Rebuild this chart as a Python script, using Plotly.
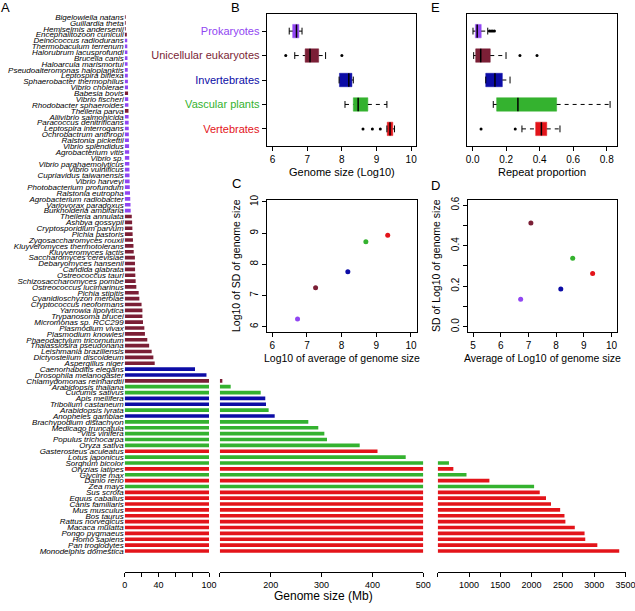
import plotly.graph_objects as go

W, H = 635, 611

# ---------------- DATA ----------------
species = [
    "Bigelowiella natans", "Guillardia theta", "Hemiselmis andersenii", "Encephalitozoon cuniculi",
    "Deinococcus radiodurans", "Thermobaculum terrenum", "Halorubrum lacusprofundi", "Brucella canis",
    "Haloarcula marismortui", "Pseudoalteromonas haloplanktis", "Leptospira biflexa",
    "Sphaerobacter thermophilus", "Vibrio cholerae", "Babesia bovis", "Vibrio fischeri",
    "Rhodobacter sphaeroides", "Theileria parva", "Aliivibrio salmonicida", "Paracoccus denitrificans",
    "Leptospira interrogans", "Ochrobactrum anthropi", "Ralstonia pickettii", "Vibrio splendidus",
    "Agrobacterium vitis", "Vibrio sp.", "Vibrio parahaemolyticus", "Vibrio vulnificus",
    "Cupriavidus taiwanensis", "Vibrio harveyi", "Photobacterium profundum", "Ralstonia eutropha",
    "Agrobacterium radiobacter", "Variovorax paradoxus", "Burkholderia ambifaria", "Theileria annulata",
    "Ashbya gossypii", "Cryptosporidium parvum", "Pichia pastoris", "Zygosaccharomyces rouxii",
    "Kluyveromyces thermotolerans", "Kluyveromyces lactis", "Saccharomyces cerevisiae",
    "Debaryomyces hansenii", "Candida glabrata", "Ostreococcus tauri", "Schizosaccharomyces pombe",
    "Ostreococcus lucimarinus", "Pichia stipitis", "Cyanidioschyzon merolae", "Cryptococcus neoformans",
    "Yarrowia lipolytica", "Trypanosoma brucei", "Micromonas sp. RCC299", "Plasmodium vivax",
    "Plasmodium knowlesi", "Phaeodactylum tricornutum", "Thalassiosira pseudonana",
    "Leishmania braziliensis", "Dictyostelium discoideum", "Aspergillus niger", "Caenorhabditis elegans",
    "Drosophila melanogaster", "Chlamydomonas reinhardtii", "Arabidopsis thaliana", "Cucumis sativus",
    "Apis mellifera", "Tribolium castaneum", "Arabidopsis lyrata", "Anopheles gambiae",
    "Brachypodium distachyon", "Medicago truncatula", "Vitis vinifera", "Populus trichocarpa",
    "Oryza sativa", "Gasterosteus aculeatus", "Lotus japonicus", "Sorghum bicolor", "Oryzias latipes",
    "Glycine max", "Danio rerio", "Zea mays", "Sus scrofa", "Equus caballus", "Canis familiaris",
    "Mus musculus", "Bos taurus", "Rattus norvegicus", "Macaca mulatta", "Pongo pygmaeus",
    "Homo sapiens", "Pan troglodytes", "Monodelphis domestica",
]

genome_mb = [
    0.37, 0.55, 0.57, 2.5,
    3.0, 3.1, 3.2, 3.3, 3.4, 3.6, 3.7, 3.8, 3.9, 4.0, 4.2, 4.4, 4.5, 4.6, 4.7, 4.8,
    4.9, 5.0, 5.2, 5.3, 5.4, 5.5, 5.6, 5.7, 5.8, 6.0, 6.3, 6.6, 6.9, 7.1,
    8.4, 8.8, 9.1, 9.4, 9.8, 10.4, 10.7, 12.1, 12.2, 12.3, 12.6, 13.0, 13.8, 16.6, 17.4,
    20.0, 21.0, 21.0, 21.7, 23.3, 24.0, 26.8, 29.0, 32.0, 34.0, 35.6,
    83.4, 97.0, 105.0, 121.4, 180.4, 189.4, 190.8, 196.0, 207.9, 274.0, 293.6, 305.5,
    310.7, 375.0, 410.0, 465.4, 680.0, 750.0, 960.0, 1326.0, 2040.0, 2130.0, 2230.0,
    2310.0, 2456.0, 2525.0, 2540.0, 2690.0, 2846.0, 2857.0, 3050.0, 3400.0,
]

# group index: 0 Prokaryotes, 1 Unicellular eukaryotes, 2 Invertebrates, 3 Vascular plants, 4 Vertebrates
species_group = (
    [1, 1, 1, 1] + [0] * 9 + [1] + [0, 0] + [1] + [0] * 17 + [1] * 26
    + [2, 2, 1, 3, 3, 2, 2, 3, 2, 3, 3, 3, 3, 3, 4, 3, 3, 4, 3, 4, 3] + [4] * 11
)

group_names = ["Prokaryotes", "Unicellular eukaryotes", "Invertebrates", "Vascular plants", "Vertebrates"]
group_colors = ["#9146F2", "#7B1F36", "#0C0CA6", "#34B22F", "#E3141A"]

# Panel B: genome size (log10) box statistics
b_low = [6.48, 6.64, 7.92, 8.09, 9.30]
b_q1 = [6.58, 6.94, 7.93, 8.33, 9.31]
b_med = [6.69, 7.08, 8.20, 8.47, 9.39]
b_q3 = [6.76, 7.33, 8.29, 8.75, 9.47]
b_high = [6.85, 7.53, 8.33, 9.30, 9.52]
b_out_group = [1, 1, 4, 4, 4]
b_out_value = [6.38, 8.00, 8.61, 8.88, 9.11]

# Panel E: repeat proportion box statistics
e_low = [0.002, 0.006, 0.078, 0.123, 0.294]
e_q1 = [0.016, 0.018, 0.078, 0.143, 0.376]
e_med = [0.027, 0.048, 0.133, 0.270, 0.410]
e_q3 = [0.051, 0.105, 0.177, 0.501, 0.442]
e_high = [0.090, 0.199, 0.223, 0.820, 0.521]
e_out_group = [0, 0, 0, 0, 1, 1, 4, 4]
e_out_value = [0.100, 0.110, 0.120, 0.130, 0.282, 0.384, 0.050, 0.254]

# Panel C
c_x = [6.73, 7.25, 8.18, 8.70, 9.33]
c_y = [6.25, 7.25, 7.76, 8.72, 8.93]
# Panel D
d_x = [6.72, 7.09, 8.17, 8.60, 9.32]
d_y = [0.136, 0.512, 0.186, 0.338, 0.263]

seg1_ticks = [0, 20, 40, 60, 80, 100]
seg1_text = ["0", "", "40", "", "", "100"]
seg2_ticks = [100, 200, 300, 400, 500]
seg2_text = ["", "200", "300", "400", "500"]
seg3_ticks = [500, 1000, 1500, 2000, 2500, 3000, 3500]
seg3_text = ["", "1000", "1500", "2000", "2500", "3000", "3500"]

# ---------------- HELPERS ----------------
def px(x):
    return x / W


def py(y):
    return 1 - y / H


FONT = "Liberation Sans, Arial, sans-serif"
fig = go.Figure()

n = len(species)
idx = list(range(n))
bar_colors = [group_colors[g] for g in species_group]

# Segment 1: 0-100
fig.add_trace(go.Bar(
    y=idx, x=[min(v, 100) for v in genome_mb], orientation="h",
    marker=dict(color=bar_colors, line=dict(width=0)), width=0.62,
    xaxis="x", yaxis="y", showlegend=False, hoverinfo="skip"))
# Segment 2: 100-500
s2 = [i for i in idx if genome_mb[i] > 100]
fig.add_trace(go.Bar(
    y=s2, x=[min(genome_mb[i], 500) - 100 for i in s2], base=[100] * len(s2), orientation="h",
    marker=dict(color=[bar_colors[i] for i in s2], line=dict(width=0)), width=0.62,
    xaxis="x2", yaxis="y", showlegend=False, hoverinfo="skip"))
# Segment 3: 500-3500
s3 = [i for i in idx if genome_mb[i] > 500]
fig.add_trace(go.Bar(
    y=s3, x=[genome_mb[i] - 500 for i in s3], base=[500] * len(s3), orientation="h",
    marker=dict(color=[bar_colors[i] for i in s3], line=dict(width=0)), width=0.62,
    xaxis="x3", yaxis="y", showlegend=False, hoverinfo="skip"))


def add_boxes(low, q1, med, q3, high, out_g, out_v, xa, ya):
    gi = list(range(len(group_names)))
    fig.add_trace(go.Bar(
        y=gi, x=[q3[i] - q1[i] for i in gi], base=q1, orientation="h", width=0.55,
        marker=dict(color=group_colors, line=dict(color=group_colors, width=0.5)),
        xaxis=xa, yaxis=ya, showlegend=False, hoverinfo="skip"))
    wx, wy = [], []
    for i in gi:
        if low[i] < q1[i]:
            wx += [low[i], q1[i], None]
            wy += [i, i, None]
        if high[i] > q3[i]:
            wx += [q3[i], high[i], None]
            wy += [i, i, None]
    fig.add_trace(go.Scatter(x=wx, y=wy, mode="lines", line=dict(color="black", width=1, dash="4px,4px"),
                             xaxis=xa, yaxis=ya, showlegend=False, hoverinfo="skip"))
    cx, cy = [], []
    for i in gi:
        for v in (low[i], high[i]):
            cx += [v, v, None]
            cy += [i - 0.14, i + 0.14, None]
    fig.add_trace(go.Scatter(x=cx, y=cy, mode="lines", line=dict(color="black", width=1),
                             xaxis=xa, yaxis=ya, showlegend=False, hoverinfo="skip"))
    mx, my = [], []
    for i in gi:
        mx += [med[i], med[i], None]
        my += [i - 0.275, i + 0.275, None]
    fig.add_trace(go.Scatter(x=mx, y=my, mode="lines", line=dict(color="black", width=1.5),
                             xaxis=xa, yaxis=ya, showlegend=False, hoverinfo="skip"))
    fig.add_trace(go.Scatter(x=out_v, y=out_g, mode="markers", marker=dict(color="black", size=3),
                             xaxis=xa, yaxis=ya, showlegend=False, hoverinfo="skip"))


add_boxes(b_low, b_q1, b_med, b_q3, b_high, b_out_group, b_out_value, "x4", "y4")
add_boxes(e_low, e_q1, e_med, e_q3, e_high, e_out_group, e_out_value, "x5", "y5")

fig.add_trace(go.Scatter(x=c_x, y=c_y, mode="markers", marker=dict(color=group_colors, size=5),
                         xaxis="x6", yaxis="y6", showlegend=False, hoverinfo="skip"))
fig.add_trace(go.Scatter(x=d_x, y=d_y, mode="markers", marker=dict(color=group_colors, size=5),
                         xaxis="x7", yaxis="y7", showlegend=False, hoverinfo="skip"))

tickfont = dict(family=FONT, size=10, color="black")
frame = dict(showline=True, linecolor="black", linewidth=1, mirror=True, showgrid=False, zeroline=False,
             ticks="outside", ticklen=4, tickcolor="black", tickwidth=1, tickfont=tickfont,
             automargin=False)
seg = dict(showline=True, linecolor="black", linewidth=1, showgrid=False, zeroline=False,
           ticks="outside", ticklen=4, tickcolor="black", tickwidth=1,
           tickfont=dict(family=FONT, size=9, color="black"),
           tickmode="array", anchor="y", automargin=False, ticklabeloverflow="allow")

ylab = ['<span style="color:%s">%s</span>' % (c, g) for g, c in zip(group_names, group_colors)]

fig.update_layout(
    template="none",
    width=W, height=H, margin=dict(l=0, r=0, t=0, b=0, pad=0, autoexpand=False),
    paper_bgcolor="white", plot_bgcolor="white", barmode="overlay",
    font=dict(family=FONT, color="black"),
    xaxis=dict(seg, domain=[px(124.7), px(209)], range=[0, 100], tickvals=seg1_ticks, ticktext=seg1_text),
    xaxis2=dict(seg, domain=[px(219.8), px(423.3)], range=[100, 500], tickvals=seg2_ticks, ticktext=seg2_text),
    xaxis3=dict(seg, domain=[px(437.7), px(625.5)], range=[500, 3500], tickvals=seg3_ticks, ticktext=seg3_text),
    yaxis=dict(domain=[py(572.3), py(14.07)], range=[94.63, -0.5], anchor="x", automargin=False,
               tickmode="array", tickvals=idx, ticktext=species, ticks="", showline=False,
               showgrid=False, zeroline=False,
               tickfont=dict(family=FONT, size=8, color="black", style="italic")),
    xaxis4=dict(frame, domain=[px(266.7), px(416)], range=[5.83, 10.14], anchor="y4",
                tickmode="array", tickvals=[6, 7, 8, 9, 10]),
    yaxis4=dict(frame, domain=[py(146), py(14)], range=[4.7, -0.7], anchor="x4",
                tickmode="array", tickvals=[0, 1, 2, 3, 4], ticktext=ylab,
                tickfont=dict(family=FONT, size=11)),
    xaxis5=dict(frame, domain=[px(467.3), px(617.3)], range=[-0.032, 0.863], anchor="y5",
                tickmode="array", tickvals=[0, 0.2, 0.4, 0.6, 0.8], ticktext=["0.0", "0.2", "0.4", "0.6", "0.8"]),
    yaxis5=dict(frame, domain=[py(146), py(14)], range=[4.7, -0.7], anchor="x5",
                showticklabels=False, ticks=""),
    xaxis6=dict(frame, domain=[px(266.7), px(416.5)], range=[5.84, 10.16], anchor="y6",
                tickmode="array", tickvals=[6, 7, 8, 9, 10]),
    yaxis6=dict(frame, domain=[py(331.6), py(200.3)], range=[5.843, 10.053], anchor="x6",
                tickmode="array", tickvals=[6, 7, 8, 9, 10], tickangle=-90),
    xaxis7=dict(frame, domain=[px(467.5), px(617)], range=[4.8, 10.2], anchor="y7",
                tickmode="array", tickvals=[5, 6, 7, 8, 9, 10]),
    yaxis7=dict(frame, domain=[py(331.6), py(200.3)], range=[-0.024, 0.624], anchor="x7",
                tickmode="array", tickvals=[0, 0.1, 0.2, 0.3, 0.4, 0.5, 0.6],
                ticktext=["0.0", "", "0.2", "", "0.4", "", "0.6"], tickangle=-90),
)

annotations = [
    ("A", 5.5, 7, 13, 0), ("B", 235.5, 7, 13, 0), ("E", 435.5, 7, 13, 0),
    ("C", 236, 184, 13, 0), ("D", 435.5, 185, 13, 0),
    ("Genome size (Log10)", 341.5, 172, 11, 0), ("Repeat proportion", 542, 172, 11, 0),
    ("Log10 of average of genome size", 341.5, 357.5, 10.5, 0),
    ("Average of Log10 of genome size", 542, 357.5, 10.5, 0),
    ("Log10 of SD of genome size", 236, 266, 10.5, -90),
    ("SD of Log10 of genome size", 436, 266, 10.5, -90),
    ("Genome size (Mb)", 323, 596, 12, 0),
]
for text, x, y, size, ang in annotations:
    fig.add_annotation(text=text, x=px(x), y=py(y), xref="paper", yref="paper", showarrow=False,
                       xanchor="center", yanchor="middle", textangle=ang,
                       font=dict(family=FONT, size=size, color="black"))

fig.write_html("out.html", config={"displayModeBar": False},
               post_script="document.body.style.margin='0px';")
